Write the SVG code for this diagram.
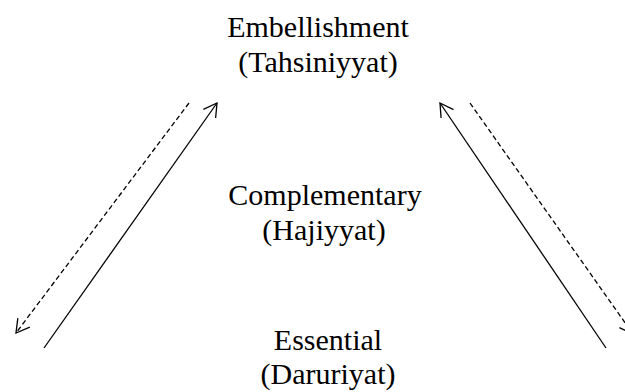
<svg xmlns="http://www.w3.org/2000/svg" width="625" height="392" viewBox="0 0 625 392">
<style>
.t{font-family:"Liberation Serif","Times New Roman",serif;font-size:30px;fill:#000;text-anchor:middle}
.c{stroke:#000;stroke-width:1.3;fill:none}
.d{stroke-dasharray:5,3}
</style>
<defs>
<marker id="ah" viewBox="-16 -10 18 20" refX="0" refY="0" markerWidth="18" markerHeight="20" markerUnits="userSpaceOnUse" orient="auto">
<path d="M-13,-7.5 L0,0 L-13,7.5" fill="none" stroke="#000" stroke-width="1.3"/>
</marker>
</defs>
<rect width="625" height="392" fill="#fff"/>
<g id="connectors">
<line class="c" x1="44" y1="348" x2="217" y2="103" marker-end="url(#ah)"/>
<line class="c d" x1="189" y1="103" x2="16" y2="333" marker-end="url(#ah)"/>
<line class="c" x1="606" y1="348" x2="440" y2="103" marker-end="url(#ah)"/>
<line class="c d" x1="470" y1="103" x2="633" y2="334" marker-end="url(#ah)"/>
</g>
<g id="embellishment">
<text class="t" x="318" y="37">Embellishment</text>
<text class="t" x="318" y="72">(Tahsiniyyat)</text>
</g>
<g id="complementary">
<text class="t" x="325" y="205">Complementary</text>
<text class="t" x="324" y="240">(Hajiyyat)</text>
</g>
<g id="essential">
<text class="t" x="328" y="350">Essential</text>
<text class="t" x="328" y="384">(Daruriyat)</text>
</g>
</svg>
